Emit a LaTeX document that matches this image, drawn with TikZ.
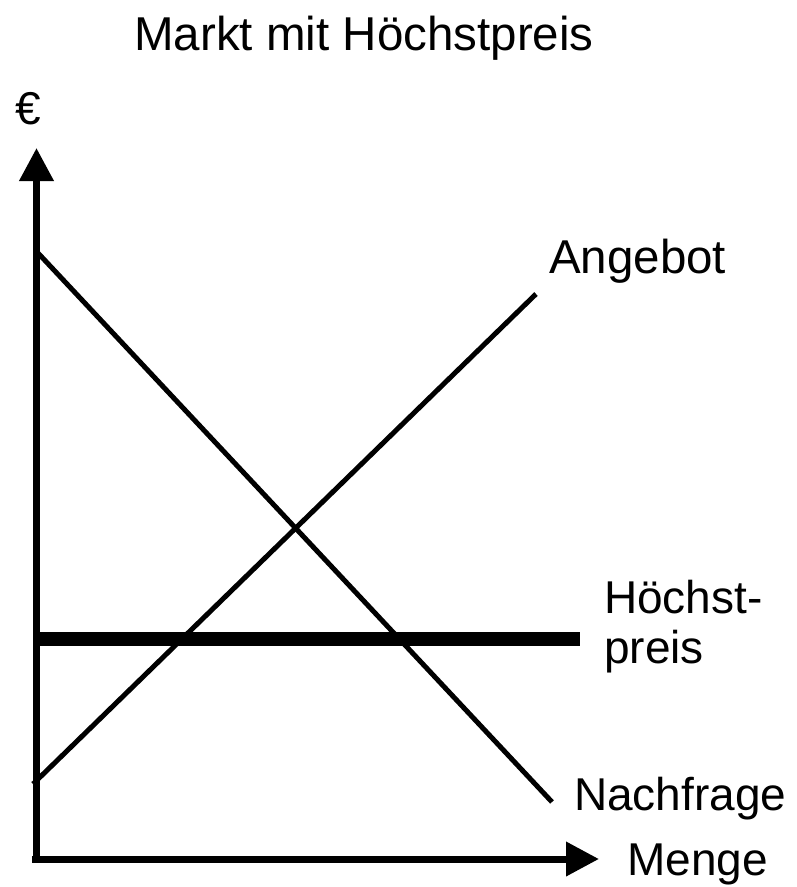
\documentclass[tikz,border=0pt]{standalone}
\usepackage{fontspec}
\setmainfont{Liberation Sans}
\usetikzlibrary{arrows.meta}
\begin{document}
\begin{tikzpicture}[x=1pt,y=-1pt,
  lbl/.style={anchor=base west,inner sep=0pt,font=\fontsize{46}{50}\selectfont},
  axis/.style={line width=7pt,-{Triangle[length=33pt,width=33pt]}},
  curve/.style={line width=5pt},
  ceilingline/.style={line width=14pt}]
\useasboundingbox (0,0) rectangle (797,887);
\coordinate (o) at (36.5,863);
\coordinate (ytip) at (36.5,148);
\coordinate (xo) at (32,859);
\coordinate (xtip) at (599,859);
\draw[axis] (o) -- (ytip);
\draw[axis] (xo) -- (xtip);
\coordinate (d1) at (38,253);
\coordinate (d2) at (552,802);
\draw[curve] (d1) -- (d2);
\coordinate (s1) at (33,784);
\coordinate (s2) at (536,294);
\draw[curve] (s1) -- (s2);
\coordinate (h1) at (37,639);
\coordinate (h2) at (580,639);
\draw[ceilingline] (h1) -- (h2);
\node[lbl,anchor=base,font=\fontsize{47.5}{50}\selectfont] (title) at (364,50) {Markt mit Höchstpreis};
\node[lbl,anchor=base] (euro) at (28,124) {€};
\node[lbl,font=\fontsize{47.5}{50}\selectfont] (ang) at (549,273) {Angebot};
\node[lbl] (hp1) at (604,613) {Höchst-};
\node[lbl] (hp2) at (604,663) {preis};
\node[lbl] (nach) at (574,810) {Nachfrage};
\node[lbl] (menge) at (627,875) {Menge};
\end{tikzpicture}
\end{document}
